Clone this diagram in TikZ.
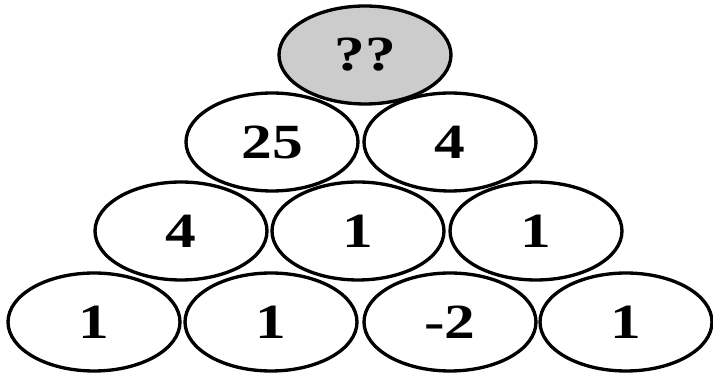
\documentclass[tikz,border=0pt]{standalone}
\usepackage{fontspec}
\setmainfont{Liberation Serif}
\newfontfamily\numfont[FakeStretch=1.25]{Liberation Serif}
\usetikzlibrary{shapes.geometric}

\tikzset{
    ball/.style={ellipse, draw=black, line width=1.9pt, inner sep=0pt,
        minimum width=3.44cm, minimum height=1.96cm,
        font=\numfont\fontsize{28}{32}\selectfont\bfseries},
}

\begin{document}
\begin{tikzpicture}[x=0.02cm, y=-0.02cm]

    % Canvas
    \fill[white] (0,0) rectangle (713,377);
    \useasboundingbox (0,0) rectangle (713,377);

    % Top: the unknown
    \node[ball, fill=gray!40] (top) at (365,55) {??};

    % Row 2
    \foreach \x/\v [count=\i] in {272/25, 450/4} {
        \node[ball] (b\i) at (\x,142) {\v};
    }

    % Row 3
    \foreach \x/\v [count=\i] in {181/4, 358/1, 536/1} {
        \node[ball] (c\i) at (\x,231) {\v};
    }

    % Bottom row
    \foreach \x/\v [count=\i] in {94/1, 271/1, 450/-2, 626/1} {
        \node[ball] (d\i) at (\x,322) {\v};
    }

\end{tikzpicture}
\end{document}
